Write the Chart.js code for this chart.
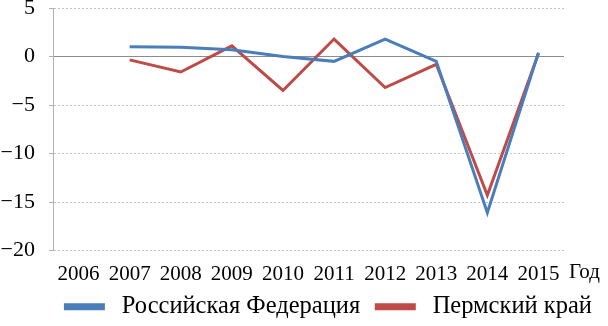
<!DOCTYPE html>
<html>
<head>
<meta charset="utf-8">
<script src="https://cdn.jsdelivr.net/npm/chart.js@4/dist/chart.umd.min.js"></script>
<style>
html,body{margin:0;padding:0;background:#fff;}
#wrap{width:608px;height:326px;position:relative;}
</style>
</head>
<body>
<div id="wrap"><canvas id="c" width="608" height="326"></canvas></div>
<script>
const years = ['2006','2007','2008','2009','2010','2011','2012','2013','2014','2015'];
const russia = [null, 1.0, 0.95, 0.7, 0.0, -0.5, 1.8, -0.5, -16.1, 0.4];
const perm = [null, -0.35, -1.6, 1.1, -3.5, 1.8, -3.2, -0.8, -14.3, 0.3];
const yTicks = [5, 0, -5, -10, -15, -20];
const axisTitleX = 'Год';
const seriesNames = ['Российская Федерация', 'Пермский край'];

const FONT = "'Liberation Serif', 'Times New Roman', serif";
Chart.defaults.font.family = FONT;
Chart.defaults.color = '#000';
const BLUE = '#4A7EBB';
const RED = '#BE4B48';

const godPlugin = {
  id: 'godLabel',
  afterDraw(chart) {
    const xs = chart.scales.x;
    const ctx = chart.ctx;
    ctx.save();
    ctx.font = '21px ' + FONT;
    ctx.fillStyle = '#000';
    ctx.textAlign = 'left';
    ctx.textBaseline = 'middle';
    ctx.fillText(axisTitleX, xs.right + 5, xs.top + 22);
    ctx.restore();
  }
};

new Chart(document.getElementById('c'), {
  type: 'line',
  data: {
    labels: years,
    datasets: [
      {label: seriesNames[0], data: russia, borderColor: BLUE, backgroundColor: BLUE, borderWidth: 3, pointRadius: 0, tension: 0},
      {label: seriesNames[1], data: perm, borderColor: RED, backgroundColor: RED, borderWidth: 3, pointRadius: 0, tension: 0}
    ]
  },
  options: {
    responsive: false,
    animation: false,
    layout: {padding: {left: 0, right: 0, top: 8, bottom: -3}},
    plugins: {
      legend: {
        position: 'bottom',
        align: 'end',
        labels: {
          font: {family: FONT, size: 24.5},
          color: '#000',
          boxWidth: 38,
          boxHeight: 4,
          padding: 10,
          generateLabels(chart) {
            const items = Chart.defaults.plugins.legend.labels.generateLabels(chart);
            items.forEach(it => { it.text = '\u00A0' + it.text + '\u00A0'; });
            return items;
          }
        }
      },
      tooltip: {enabled: false}
    },
    scales: {
      x: {
        offset: true,
        grid: {display: false, drawTicks: false},
        border: {display: false},
        ticks: {font: {family: FONT, size: 21}, color: '#000', padding: 11, autoSkip: false, maxRotation: 0},
        afterFit(s) { s.height = 34; }
      },
      y: {
        min: -20, max: 5,
        afterBuildTicks(s) { s.ticks = yTicks.map(v => ({value: v})); },
        ticks: {
          font: {family: FONT, size: 22}, color: '#000', padding: 14,
          callback: v => String(v).replace('-', '\u2212')
        },
        grid: {
          color: c => (c.tick && c.tick.value === 0) ? '#8c8c8c' : '#c4c4c4',
          lineWidth: 1,
          tickLength: 4,
          tickColor: '#b0b0b0',
          tickBorderDash: []
        },
        border: {
          display: true,
          color: '#b0b0b0',
          width: 1,
          dash: c => (c.type === 'tick' && c.tick && c.tick.value !== 0) ? [2, 2] : []
        },
        afterFit(s) { s.width = 53; s.paddingTop = 0; s.paddingBottom = 0; }
      },
      yPad: {
        position: 'right',
        display: true,
        min: 0, max: 1,
        grid: {display: false, drawTicks: false},
        border: {display: false},
        ticks: {display: false},
        afterFit(s) { s.width = 44; }
      }
    }
  },
  plugins: [godPlugin]
});
</script>
</body>
</html>
